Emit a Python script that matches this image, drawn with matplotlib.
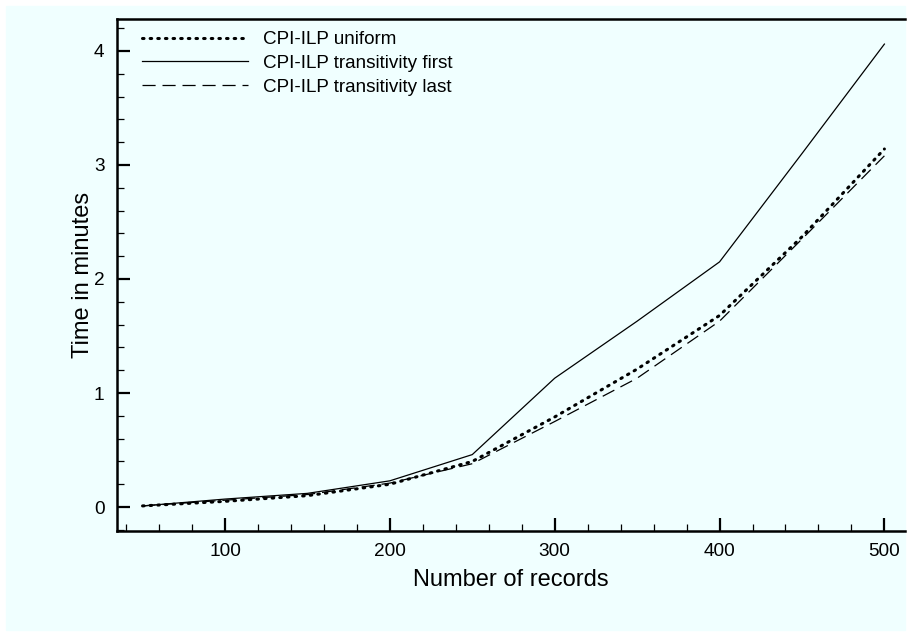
import numpy as np
import matplotlib
matplotlib.use('Agg')
import matplotlib.pyplot as plt
from matplotlib.patches import Rectangle
from matplotlib.ticker import MultipleLocator

plt.rcParams['font.family'] = ['Liberation Sans', 'DejaVu Sans']

records = [50, 100, 150, 200, 250, 300, 350, 400, 450, 500]
uniform = [0.01, 0.05, 0.10, 0.20, 0.40, 0.79, 1.21, 1.68, 2.37, 3.14]
trans_first = [0.01, 0.07, 0.12, 0.23, 0.46, 1.13, 1.63, 2.15, 3.10, 4.06]
trans_last = [0.01, 0.06, 0.11, 0.21, 0.38, 0.75, 1.13, 1.63, 2.35, 3.08]

labels = ['CPI-ILP uniform', 'CPI-ILP transitivity first', 'CPI-ILP transitivity last']

fig = plt.figure(figsize=(9.09, 6.33), dpi=100, facecolor='white')
fig.patches.append(Rectangle((6 / 909, 3 / 633), 899 / 909, 624 / 633,
                             transform=fig.transFigure, color='#f0ffff', zorder=-10))
ax = fig.add_axes([117 / 909, 1 - 531 / 633, 788 / 909, 512 / 633])
ax.set_facecolor('none')

ax.plot(records, uniform, color='black', lw=2.2, linestyle=(0, (0.5, 2.0)),
        dash_capstyle='round', label=labels[0])
ax.plot(records, trans_first, color='black', lw=0.9, label=labels[1])
ax.plot(records, trans_last, color='black', lw=0.9, linestyle=(0, (10.5, 5.5)), label=labels[2])

ax.set_xlim(34.5, 512.5)
ax.set_ylim(-0.21, 4.28)
ax.xaxis.set_major_locator(MultipleLocator(100))
ax.xaxis.set_minor_locator(MultipleLocator(20))
ax.yaxis.set_major_locator(MultipleLocator(1))
ax.yaxis.set_minor_locator(MultipleLocator(0.2))

ax.spines['right'].set_visible(False)
for s in ['left', 'bottom', 'top']:
    ax.spines[s].set_linewidth(1.8)

ax.tick_params(which='major', direction='in', length=9.5, width=1.6, labelsize=13.7, pad=9)
ax.tick_params(which='minor', direction='in', length=4.8, width=0.9)
ax.tick_params(top=False, right=False, which='both')

ax.set_xlabel('Number of records', fontsize=17, labelpad=6)
ax.set_ylabel('Time in minutes', fontsize=17, labelpad=0)

ax.legend(loc='upper left', bbox_to_anchor=(0.027, 0.984), frameon=False, fontsize=13.6,
          handlelength=5.6, handletextpad=0.8, labelspacing=0.35,
          borderaxespad=0, borderpad=0.2)

fig.savefig('out.png', dpi=100, facecolor='white')
